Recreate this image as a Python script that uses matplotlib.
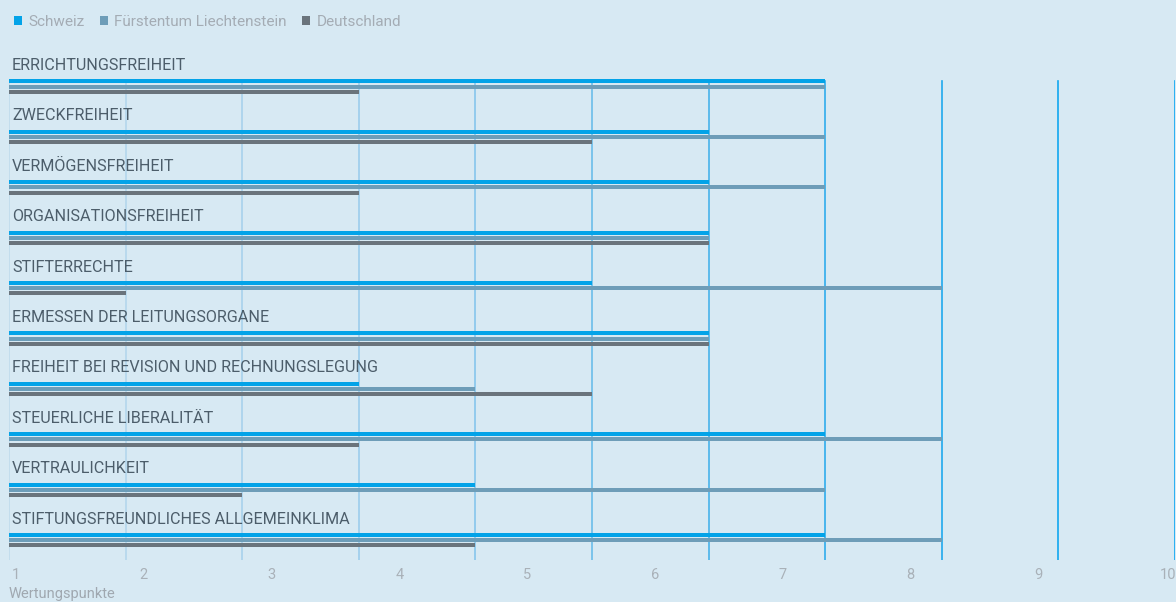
import matplotlib
matplotlib.use("Agg")
import matplotlib.pyplot as plt
import matplotlib.transforms as mtransforms
import numpy as np

categories = [
    "ERRICHTUNGSFREIHEIT",
    "ZWECKFREIHEIT",
    "VERMÖGENSFREIHEIT",
    "ORGANISATIONSFREIHEIT",
    "STIFTERRECHTE",
    "ERMESSEN DER LEITUNGSORGANE",
    "FREIHEIT BEI REVISION UND RECHNUNGSLEGUNG",
    "STEUERLICHE LIBERALITÄT",
    "VERTRAULICHKEIT",
    "STIFTUNGSFREUNDLICHES ALLGEMEINKLIMA",
]
schweiz = [7, 6, 6, 6, 5, 6, 3, 7, 4, 7]
liechtenstein = [7, 7, 7, 6, 8, 6, 4, 8, 7, 8]
deutschland = [3, 5, 3, 6, 1, 6, 5, 3, 2, 4]
series_names = ["Schweiz", "Fürstentum Liechtenstein", "Deutschland"]
tick_labels = ["1", "2", "3", "4", "5", "6", "7", "8", "9", "10"]
x_label = "Wertungspunkte"

colors = ["#03a3e8", "#6e9db8", "#6a747c"]
bg = "#d7e9f3"
grid_colors = ["#c0dbec", "#b4d6ec", "#a8d2ec", "#9ccdec", "#86c5ec", "#6abdea",
               "#48b2ea", "#30acec", "#1fa9ee", "#12a7f0", "#0aa6f2"]

plt.rcParams['font.family'] = ['Roboto', 'DejaVu Sans']

W, H = 1176, 602
fig = plt.figure(figsize=(W / 100, H / 100), dpi=100)
fig.patch.set_facecolor(bg)

left_px, right_px = 9, 1175
top_px, bot_px = 79, 560
ax = fig.add_axes([left_px / W, 1 - bot_px / H, (right_px - left_px) / W, (bot_px - top_px) / H])
ax.set_facecolor(bg)
for s in ax.spines.values():
    s.set_visible(False)

n = len(categories)
pitch = 50.4
y = np.arange(n)
ax.set_xlim(0, 10)
ax.set_ylim(n - 1 + 19.9 / pitch, -7.5 / pitch)

# grid lines
for i, gx in enumerate(range(0, 11)):
    ax.axvline(gx, ymin=0, ymax=(bot_px - 81) / (bot_px - top_px), color=grid_colors[i],
               lw=1.2, zorder=1)

bh = 4.0 / pitch
off = 5.2 / pitch
for k, vals in enumerate([schweiz, liechtenstein, deutschland]):
    ax.barh(y + (k - 1) * off, vals, height=bh, left=0, color=colors[k], zorder=2)

for i, c in enumerate(categories):
    ax.annotate(c, xy=(0, y[i] - 16.5 / pitch), xytext=(3, 0), textcoords="offset pixels",
                ha="left", va="baseline", fontsize=11.6, color="#4c5d6a",
                annotation_clip=False)

ax.set_xticks([])
ax.set_yticks([])

# tick labels axis
ax2 = ax.twiny()
ax2.set_xlim(0.9765, 10.1017)
ax2.xaxis.set_ticks_position("bottom")
ax2.set_xticks(range(1, 11))
ax2.set_xticklabels(tick_labels, ha="left")
ax2.tick_params(axis="x", length=0, pad=6, labelsize=10.5, labelcolor="#a9b1b8")
for s in ax2.spines.values():
    s.set_visible(False)
ax2.set_yticks([])
last = ax2.get_xticklabels()[-1]
last.set_transform(last.get_transform() + mtransforms.ScaledTranslation(-2 / 100, 0, fig.dpi_scale_trans))

fig.text(9 / W, 1 - 594 / H, x_label, ha="left", va="center", fontsize=10.5, color="#a0a8b0")

# legend
from matplotlib.patches import Patch
handles = [Patch(facecolor=colors[k], edgecolor="none") for k in range(3)]
leg = fig.legend(handles, series_names, loc="center left", bbox_to_anchor=(0 / W, 1 - 22 / H),
                 ncol=3, frameon=False, fontsize=11, handlelength=0.55, handleheight=0.55,
                 handletextpad=0.4, columnspacing=1.0, labelcolor="#a4acb4")

fig.savefig("out.png", dpi=100, facecolor=bg)
